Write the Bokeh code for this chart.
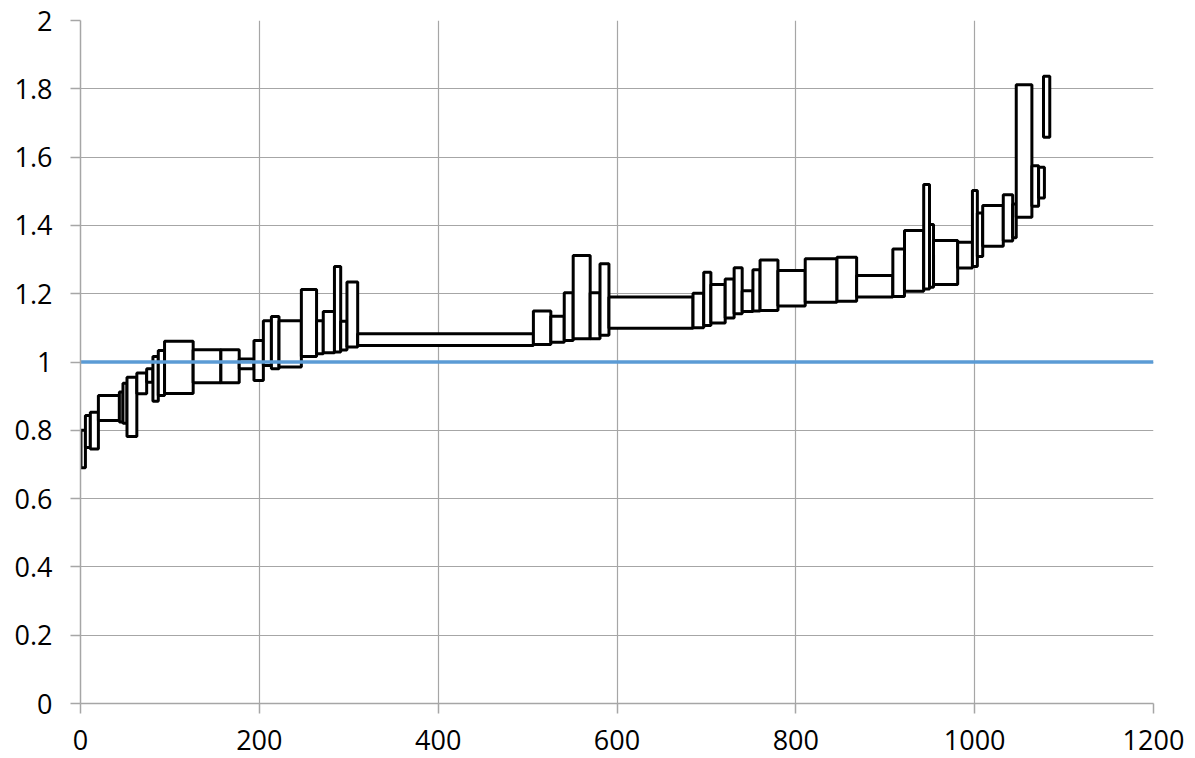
from bokeh.plotting import figure
from bokeh.models import FixedTicker, Range1d
from bokeh.embed import file_html
from bokeh.resources import INLINE

# Rectangles: x extent (left/right) and y extent (low/high)
x_left = [0.5, 5.5, 11, 20, 43.5, 47.5, 52, 63, 74, 81, 87, 94, 126, 157, 177.5,
          194, 204.5, 213.5, 222, 247, 264, 271.5, 284, 291, 298, 310, 506.5, 526,
          541, 551, 570, 581, 591, 685, 697, 705, 721, 731, 740, 752, 760, 780,
          810.5, 846, 868, 908.5, 921.5, 943, 949.5, 954, 981, 997.5, 1003, 1009,
          1032, 1042.5, 1046.5, 1064, 1071.5, 1077]
x_right = [5.5, 11, 20, 43.5, 47.5, 52, 63, 74, 81, 87, 94, 126, 157, 177.5, 194,
           204.5, 213.5, 222, 247, 264, 271.5, 284, 291, 298, 310, 506.5, 526, 541,
           551, 570, 581, 591, 685, 697, 705, 721, 731, 740, 752, 760, 780, 810.5,
           846, 868, 908.5, 921.5, 943, 949.5, 954, 981, 997.5, 1003, 1009, 1032,
           1042.5, 1046.5, 1064, 1071.5, 1078, 1084]
y_low = [0.69, 0.75, 0.745, 0.829, 0.824, 0.821, 0.782, 0.907, 0.941, 0.885, 0.902,
         0.908, 0.939, 0.939, 0.980, 0.946, 0.990, 0.980, 0.985, 1.016, 1.024, 1.027,
         1.029, 1.035, 1.044, 1.048, 1.051, 1.058, 1.063, 1.068, 1.068, 1.078, 1.099,
         1.100, 1.107, 1.114, 1.129, 1.141, 1.148, 1.149, 1.151, 1.164, 1.175, 1.178,
         1.190, 1.192, 1.207, 1.214, 1.219, 1.227, 1.275, 1.280, 1.309, 1.339, 1.354,
         1.364, 1.424, 1.456, 1.480, 1.658]
y_high = [0.80, 0.843, 0.853, 0.902, 0.912, 0.938, 0.955, 0.968, 0.980, 1.016, 1.034,
          1.061, 1.036, 1.036, 1.009, 1.063, 1.121, 1.133, 1.121, 1.212, 1.121, 1.148,
          1.280, 1.119, 1.234, 1.083, 1.149, 1.134, 1.203, 1.312, 1.203, 1.288, 1.190,
          1.201, 1.263, 1.227, 1.243, 1.276, 1.209, 1.270, 1.299, 1.268, 1.302, 1.307,
          1.253, 1.331, 1.385, 1.520, 1.403, 1.356, 1.351, 1.502, 1.436, 1.458, 1.490,
          1.463, 1.812, 1.575, 1.570, 1.837]

# Reference line
ref_x = [0, 1200]
ref_y = [1, 1]

x_ticks = [0, 200, 400, 600, 800, 1000, 1200]
y_ticks = [0, 0.2, 0.4, 0.6, 0.8, 1.0, 1.2, 1.4, 1.6, 1.8, 2.0]
y_labels = ["0", "0.2", "0.4", "0.6", "0.8", "1", "1.2", "1.4", "1.6", "1.8", "2"]

p = figure(width=1187, height=758, output_backend="svg", toolbar_location=None,
           x_range=Range1d(0, 1200), y_range=Range1d(0, 2),
           min_border_left=80, min_border_right=34, min_border_top=20,
           min_border_bottom=55)
p.outline_line_color = None
p.background_fill_color = "white"
p.border_fill_color = "white"

p.quad(left=x_left, right=x_right, bottom=y_low, top=y_high,
       fill_color="white", line_color="black", line_width=3)
p.line(ref_x, ref_y, line_color="#5B9BD5", line_width=3.5)

grid_color = "#A6A6A6"
p.xaxis.ticker = FixedTicker(ticks=x_ticks)
p.yaxis.ticker = FixedTicker(ticks=y_ticks)
p.yaxis.major_label_overrides = {t: l for t, l in zip(y_ticks, y_labels)}
p.xaxis.major_label_overrides = {t: str(t) for t in x_ticks}
for ax in (p.xaxis, p.yaxis):
    ax.axis_line_color = grid_color
    ax.axis_line_width = 1.5
    ax.major_tick_line_color = grid_color
    ax.major_tick_line_width = 1.5
    ax.major_tick_out = 10
    ax.major_tick_in = 0
    ax.minor_tick_line_color = None
    ax.major_label_text_font = "Open Sans"
    ax.major_label_text_font_size = "27px"
    ax.major_label_text_color = "black"
p.xaxis.major_label_standoff = 16
p.yaxis.major_label_standoff = 18
p.xgrid.grid_line_color = grid_color
p.ygrid.grid_line_color = grid_color
p.xgrid.grid_line_width = 1.2
p.ygrid.grid_line_width = 1.2

open("out.html", "w").write(file_html(p, INLINE))
